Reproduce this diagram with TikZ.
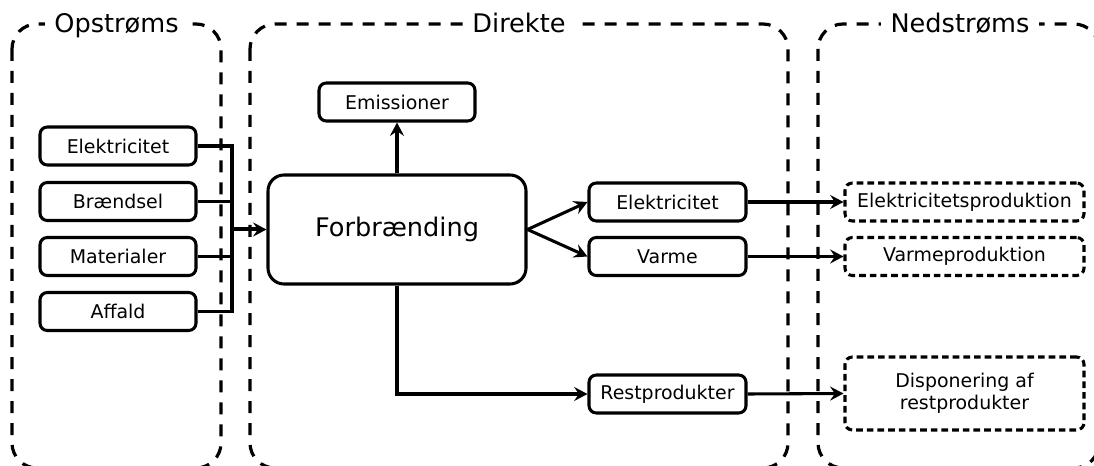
\documentclass[tikz,border=0pt]{standalone}
\usepackage{fontspec}
\setmainfont{DejaVu Sans}
\usetikzlibrary{arrows.meta}
\begin{document}
\begin{tikzpicture}[x=0.75pt, y=-0.75pt,
  line width=2.3pt,
  >={Stealth[length=10pt,width=10.5pt,inset=3.5pt]},
  box/.style={draw, line width=2.3pt, rounded corners=5.5pt, minimum height=28.5pt,
    inner sep=0pt, align=center, font=\fontsize{14.2}{16.5}\selectfont},
  upbox/.style={box, minimum width=117pt},
  midbox/.style={box, minimum width=117.75pt},
  downbox/.style={box, minimum width=179.25pt, dash pattern=on 5pt off 3pt},
  mainbox/.style={box, minimum width=193.5pt, minimum height=81.75pt,
    rounded corners=12pt, font=\fontsize{19.2}{23}\selectfont},
  group/.style={draw, line width=2.4pt, rounded corners=18.75pt,
    dash pattern=on 9pt off 7.5pt},
  grouptitle/.style={fill=white, inner xsep=7pt, inner ysep=2pt, anchor=base,
    font=\fontsize{19.2}{23}\selectfont},
  flow/.style={->, line width=2.3pt},
  feed/.style={line width=2.3pt}
]
\useasboundingbox (0,0) rectangle (1094,466);

% stage frames
\draw[group] (12,24) rectangle (221,468);
\draw[group] (250,24) rectangle (788,468);
\draw[group] (818,24) rectangle (1099,468);
\node[grouptitle] (tup) at (116.5,33) {Opstrøms};
\node[grouptitle] (tdir) at (519,33) {Direkte};
\node[grouptitle] (tdown) at (960,33) {Nedstrøms};

% upstream inputs
\node[upbox] (upE) at (118,146) {Elektricitet};
\node[upbox] (upB) at (118,201.5) {Brændsel};
\node[upbox] (upM) at (118,256.5) {Materialer};
\node[upbox] (upA) at (118,311.5) {Affald};

% direct stage
\node[mainbox] (forb) at (397,229.5) {Forbrænding};
\node[upbox] (emis) at (397,102) {Emissioner};
\node[midbox] (dirE) at (667.5,202) {Elektricitet};
\node[midbox] (dirV) at (667.5,256.5) {Varme};
\node[midbox] (rest) at (667.5,394) {Restprodukter};

% downstream
\node[downbox] (dnE) at (964.5,202) {Elektricitetsproduktion};
\node[downbox] (dnV) at (964.5,256.5) {Varmeproduktion};
\node[downbox, minimum height=54.75pt] (dnD) at (964.5,393.5) {Disponering af\\restprodukter};

% collecting bus
\coordinate (bus) at (232,229.5);
\draw[feed] (upE.east) -| (bus);
\draw[feed] (upB.east) -| (bus);
\draw[feed] (upM.east) -| (bus);
\draw[feed] (upA.east) -| (bus);
\draw[flow, line width=3pt] (bus) -- (forb.west);

% outgoing flows
\draw[flow] (forb.north) -- (emis.south);
\draw[flow] (forb.east) -- (dirE.west);
\draw[flow] (forb.east) -- (dirV.west);
\draw[flow] (forb.south) |- (rest.west);
\draw[flow] (dirE.east) -- (dnE.west);
\draw[flow] (dirV.east) -- (dnV.west);
\draw[flow] (rest.east) -- (dnD.west);
\end{tikzpicture}
\end{document}
